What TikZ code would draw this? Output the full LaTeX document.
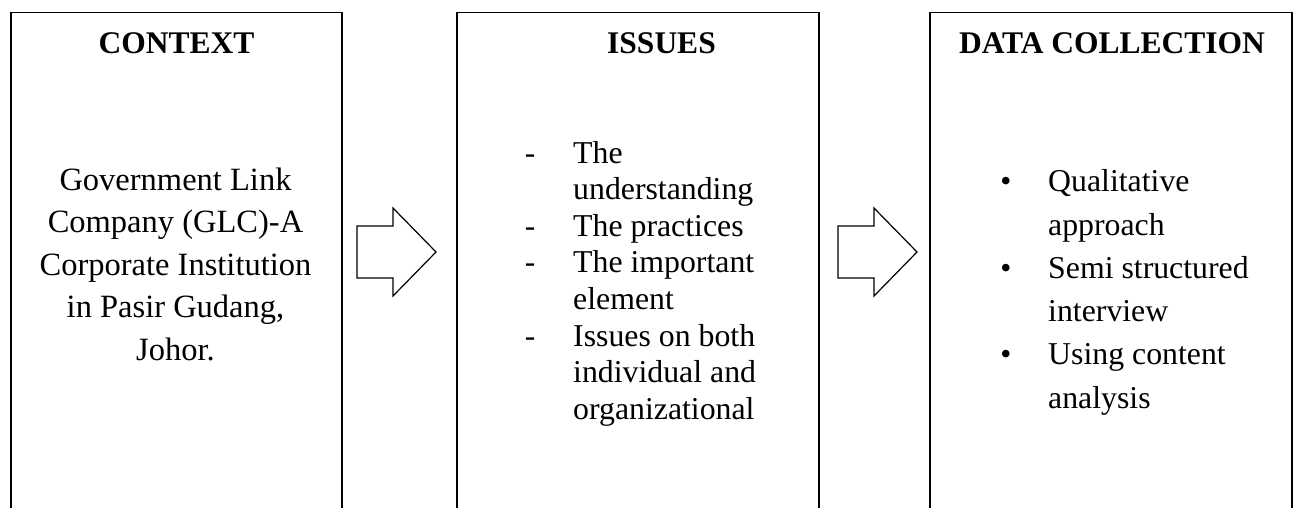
\documentclass[tikz,border=0pt]{standalone}
\usepackage{fontspec}
\setmainfont{Liberation Serif}
\usetikzlibrary{calc}
\tikzset{
  boxnode/.style={inner sep=0pt, outer sep=0pt, minimum height=530pt, anchor=north west},
  boxline/.style={draw=black, line width=1.8pt},
  arrowline/.style={draw=black, line width=1.2pt, line join=miter, fill=white},
  title/.style={font=\fontsize{31.5}{36}\selectfont\bfseries, inner sep=0pt, anchor=base},
  ctext/.style={font=\fontsize{31.5}{36}\selectfont, inner sep=0pt, anchor=base},
  ktext/.style={font=\fontsize{32.5}{36}\selectfont, inner sep=0pt, anchor=base},
  ltext/.style={font=\fontsize{31.8}{36}\selectfont, inner sep=0pt, anchor=base west},
}
\begin{document}
\begin{tikzpicture}[x=1pt,y=-1pt]
\clip (0,0) rectangle (1293,507);
\fill[white] (0,0) rectangle (1293,507);
% boxes (open at the bottom)
\node[boxnode, minimum width=331pt] (b1) at (11,12.5) {};
\node[boxnode, minimum width=362pt] (b2) at (457,12.5) {};
\node[boxnode, minimum width=362pt] (b3) at (930,12.5) {};
\foreach \b in {b1,b2,b3}{
  \draw[boxline] (\b.south west) -- (\b.north west) -- (\b.north east) -- (\b.south east);
}
% titles
\node[title] (t1) at (176.5,53) {CONTEXT};
\node[title] (t2) at (661.5,53) {ISSUES};
\node[title] (t3) at (1112,53) {DATA COLLECTION};
% context text
\foreach \i/\txt in {0/Government Link, 1/Company (GLC)-A, 2/Corporate Institution, 3/{in Pasir Gudang,}, 4/Johor.}{
  \node[ktext] (c\i) at (175.5, 190+42.5*\i) {\txt};
}
% issues list
\foreach \i/\txt in {0/The, 1/understanding, 2/The practices, 3/The important, 4/element, 5/Issues on both, 6/individual and, 7/organizational}{
  \node[ltext] (s\i) at (573, 163+36.6*\i) {\txt};
}
\foreach \i in {0,2,3,5}{
  \node[ctext] (d\i) at (530, 163+36.6*\i) {-};
}
% data collection list
\foreach \i/\txt in {0/Qualitative, 1/approach, 2/Semi structured, 3/interview, 4/Using content, 5/analysis}{
  \node[ltext] (q\i) at (1048, 191.7+43.3*\i) {\txt};
}
\foreach \i in {0,2,4}{
  \node[ctext] (p\i) at (1006, 191.7+43.3*\i) {•};
}
% block arrows
\foreach \n/\sx in {a1/357, a2/838}{
  \coordinate (\n) at (\sx,252);
  \draw[arrowline] ($(\n)+(0,-26)$) -- ++(36,0) -- ++(0,-18) -- ++(43,44) -- ++(-43,44) -- ++(0,-18) -- ++(-36,0) -- cycle;
}
\end{tikzpicture}
\end{document}
